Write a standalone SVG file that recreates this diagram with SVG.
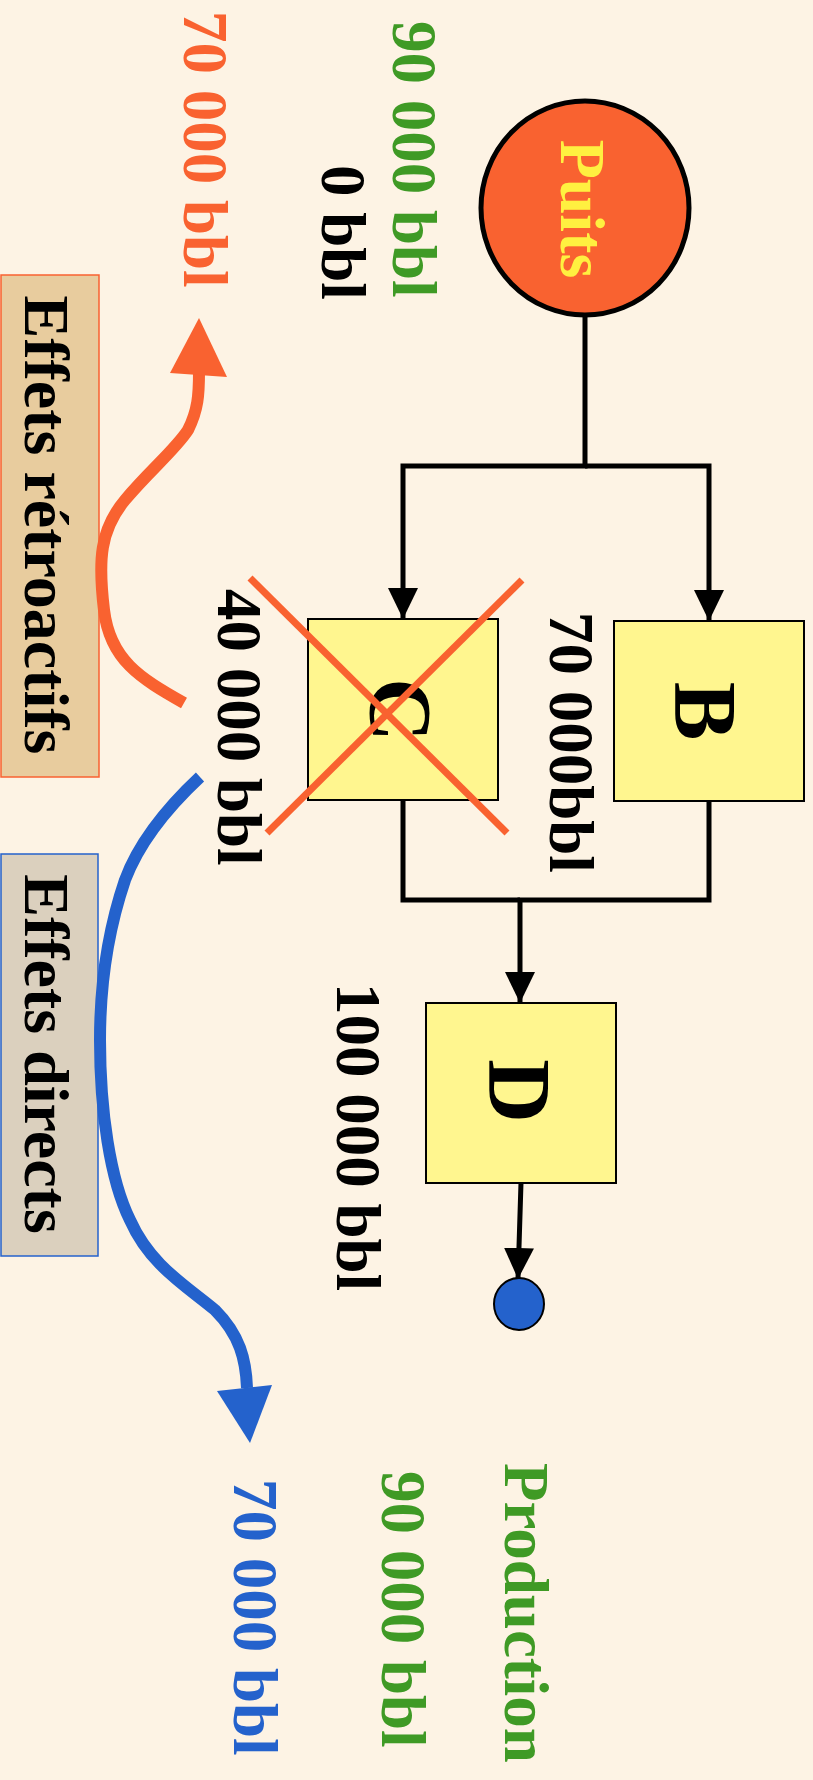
<svg xmlns="http://www.w3.org/2000/svg" width="813" height="1780" viewBox="0 0 813 1780">
<style>
.t{font-family:"Liberation Serif","Times New Roman",serif;font-weight:bold}
.lbl{font-size:63px}
.big{font-size:88px;fill:#000}
.box{fill:#FFF68F;stroke:#000;stroke-width:2}
.con{fill:none;stroke:#000;stroke-width:5}
</style>
<defs>
<marker id="ah" markerUnits="userSpaceOnUse" viewBox="0 0 31 30" refX="31" refY="15" markerWidth="31" markerHeight="30" orient="auto">
<path d="M0,0 L31,15 L0,30 z" fill="#000"/>
</marker>
</defs>
<rect width="813" height="1780" fill="#FDF3E4"/>

<g id="connectors">
<path class="con" d="M585,316 V466 H403 V619" marker-end="url(#ah)"/>
<path class="con" d="M585,466 H709 V621" marker-end="url(#ah)"/>
<path class="con" d="M709,801 V900 H520 V1003" marker-end="url(#ah)"/>
<path class="con" d="M403,800 V900 H520"/>
<path class="con" d="M521,1183 L518,1279" marker-end="url(#ah)"/>
</g>

<g id="puits">
<ellipse cx="585" cy="208" rx="104" ry="107" fill="#F96230" stroke="#000" stroke-width="5"/>
<text class="t" font-size="64" fill="#FFF040" text-anchor="middle" transform="translate(561,209) rotate(90)">Puits</text>
</g>

<g id="nodeB">
<rect class="box" x="614" y="621" width="190" height="180"/>
<text class="t big" text-anchor="middle" transform="translate(676,711) rotate(90)">B</text>
</g>

<g id="nodeC">
<rect class="box" x="308" y="619" width="190" height="181"/>
<text class="t big" text-anchor="middle" transform="translate(371,710) rotate(90)">C</text>
<line x1="250" y1="578" x2="507" y2="833" stroke="#F96230" stroke-width="7"/>
<line x1="522" y1="580" x2="267" y2="833" stroke="#F96230" stroke-width="7"/>
</g>

<g id="nodeD">
<rect class="box" x="426" y="1003" width="190" height="180"/>
<text class="t big" text-anchor="middle" transform="translate(490,1091) rotate(90)">D</text>
</g>

<g id="production">
<ellipse cx="519" cy="1304" rx="25" ry="26" fill="#2462CC" stroke="#000" stroke-width="2"/>
</g>

<g id="labels">
<text class="t lbl" fill="#3F9A25" transform="translate(393,21) rotate(90)">90 000 bbl</text>
<text class="t lbl" fill="#000" transform="translate(322,165) rotate(90)">0 bbl</text>
<text class="t lbl" fill="#F96230" transform="translate(184,11) rotate(90)">70 000 bbl</text>
<text class="t lbl" fill="#000" transform="translate(550,612) rotate(90)">70 000bbl</text>
<text class="t lbl" fill="#000" transform="translate(218,589) rotate(90)">40 000 bbl</text>
<text class="t lbl" fill="#000" transform="translate(337,983) rotate(90)">100 000 bbl</text>
<text class="t lbl" fill="#3F9A25" transform="translate(505,1463) rotate(90)">Production</text>
<text class="t lbl" fill="#3F9A25" transform="translate(382,1471) rotate(90)">90 000 bbl</text>
<text class="t lbl" fill="#2462CC" transform="translate(234,1479) rotate(90)">70 000 bbl</text>
</g>

<g id="retroactifs">
<rect x="1" y="275" width="98" height="502" fill="#E8CC9E" stroke="#F96230" stroke-width="1.5"/>
<text class="t" font-size="64" fill="#000" text-anchor="middle" transform="translate(25,525) rotate(90)">Effets rétroactifs</text>
<path d="M184,703 C140,678 110,660 104,610 C98,560 100,530 125,500 C150,470 175,450 188,430 C198,410 199,395 199,372" fill="none" stroke="#F96230" stroke-width="12"/>
<polygon points="170,373 227,377 199,318" fill="#F96230"/>
</g>

<g id="directs">
<rect x="1" y="854" width="97" height="402" fill="#DBD0BE" stroke="#2462CC" stroke-width="1.5"/>
<text class="t" font-size="64" fill="#000" text-anchor="middle" transform="translate(25,1054) rotate(90)">Effets directs</text>
<path d="M200,777 C170,805 140,840 125,880 C108,930 100,980 100,1040 C100,1110 110,1180 130,1220 C150,1265 185,1285 215,1310 C240,1335 246,1360 247,1388" fill="none" stroke="#2462CC" stroke-width="12"/>
<polygon points="217,1391 272,1385 250,1443" fill="#2462CC"/>
</g>
</svg>
